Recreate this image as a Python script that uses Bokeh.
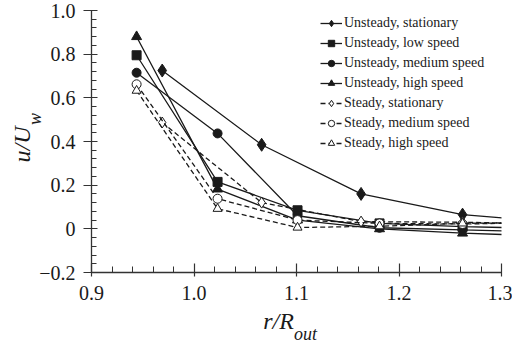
from bokeh.plotting import figure
from bokeh.models import (FixedTicker, Legend, LegendItem, Range1d, LinearAxis,
                          CustomJSTickFormatter)
from bokeh.embed import file_html
from bokeh.resources import INLINE

# ---- data ----
x_main = [0.944, 1.023, 1.101, 1.181, 1.262, 1.36]
x_stat = [0.969, 1.066, 1.163, 1.262, 1.36]

unsteady_stationary = [0.725, 0.385, 0.160, 0.065, 0.027]
unsteady_low = [0.795, 0.215, 0.085, 0.025, 0.010, 0.000]
unsteady_medium = [0.715, 0.437, 0.060, 0.005, -0.005, -0.015]
unsteady_high = [0.880, 0.182, 0.040, 0.000, -0.020, -0.035]
steady_stationary = [0.487, 0.120, 0.033, 0.030, 0.022]
steady_medium = [0.662, 0.138, 0.040, 0.025, 0.022, 0.030]
steady_high = [0.633, 0.092, 0.006, 0.012, 0.025, 0.030]

labels = ["Unsteady, stationary", "Unsteady, low speed", "Unsteady, medium speed",
          "Unsteady, high speed", "Steady, stationary", "Steady, medium speed",
          "Steady, high speed"]

x_ticks = [0.9, 1.0, 1.1, 1.2, 1.3]
y_ticks = [-0.2, 0.0, 0.2, 0.4, 0.6, 0.8, 1.0]

FONT = "Liberation Serif"
INK = "#1a1a1a"
NB = "\u00a0"

p = figure(width=512, height=346, output_backend="svg", toolbar_location=None,
           x_range=Range1d(0.9, 1.3), y_range=Range1d(-0.2, 1.0),
           min_border_left=91, min_border_right=11, min_border_top=10,
           min_border_bottom=74)
p.outline_line_color = None
p.xgrid.grid_line_color = None
p.ygrid.grid_line_color = None
p.background_fill_color = "white"

series = [
    (x_stat, unsteady_stationary, "diamond", 13, INK, "solid"),
    (x_main, unsteady_low, "square", 9, INK, "solid"),
    (x_main, unsteady_medium, "circle", 9, INK, "solid"),
    (x_main, unsteady_high, "triangle", 10, INK, "solid"),
    (x_stat, steady_stationary, "diamond", 11, "white", "5 3"),
    (x_main, steady_medium, "circle", 9, "white", "5 3"),
    (x_main, steady_high, "triangle", 9, "white", "5 3"),
]

items = []
for (xs, ys, marker, size, fill, dash), name in zip(series, labels):
    lr = p.line(xs, ys, line_color=INK, line_width=1.3, line_dash=dash)
    sr = p.scatter(xs, ys, marker=marker, size=size, fill_color=fill,
                   line_color=INK, line_width=1.0)
    items.append(LegendItem(label=name, renderers=[lr, sr]))

legend = Legend(items=items, location=(229, 121), padding=0, margin=0,
                spacing=4, glyph_width=22, glyph_height=16, label_height=16,
                label_standoff=2, label_text_font=FONT,
                label_text_font_size="14px", label_text_color=INK,
                border_line_color=None, background_fill_alpha=0)
p.add_layout(legend)

# main axes
for ax in (p.xaxis[0], p.yaxis[0]):
    ax.axis_line_color = "#333333"
    ax.axis_line_width = 1.3
    ax.major_tick_line_color = "#333333"
    ax.minor_tick_line_color = "#333333"
    ax.major_tick_line_width = 1.2
    ax.minor_tick_line_width = 1.0
    ax.major_label_text_font = FONT
    ax.major_label_text_font_size = "20px"
    ax.major_label_text_color = INK
    ax.axis_label_text_font = FONT
    ax.axis_label_text_font_style = "italic"
    ax.axis_label_text_color = INK

p.xaxis.ticker = FixedTicker(ticks=x_ticks,
                             minor_ticks=[round(0.9 + 0.02 * i, 2) for i in range(21)])
p.yaxis.ticker = FixedTicker(ticks=y_ticks,
                             minor_ticks=[round(-0.2 + 0.04 * i, 2) for i in range(31)])
p.xaxis.formatter = CustomJSTickFormatter(code="return tick.toFixed(1);")
p.yaxis.formatter = CustomJSTickFormatter(
    code="if (Math.abs(tick) < 1e-9) return '0'; return tick.toFixed(1).replace('-', '\u2212');")
p.xaxis.major_tick_in = 9
p.xaxis.major_tick_out = 4
p.xaxis.minor_tick_in = 6
p.xaxis.minor_tick_out = 0
p.xaxis.major_label_standoff = 9
p.yaxis.major_tick_in = 6
p.yaxis.major_tick_out = 8
p.yaxis.minor_tick_in = 5
p.yaxis.minor_tick_out = 0
p.yaxis.major_label_standoff = 8

# axis titles: main part on the main axes, subscripts on the inner/outer axes
p.xaxis.axis_label = "r/R" + NB * 6
p.xaxis.axis_label_text_font_size = "24px"
p.xaxis.axis_label_standoff = 5

p.yaxis.axis_label = NB * 10 + "w"
p.yaxis.axis_label_text_font_size = "18px"
p.yaxis.axis_label_standoff = -9


def label_axis(text, size, standoff):
    ax = LinearAxis(ticker=FixedTicker(ticks=[]), axis_label=text,
                    axis_line_color=None, major_tick_line_color=None,
                    minor_tick_line_color=None, major_tick_out=0, major_tick_in=0,
                    minor_tick_out=0, minor_tick_in=0, major_label_standoff=0,
                    axis_label_standoff=standoff, axis_label_text_font=FONT,
                    axis_label_text_font_style="italic",
                    axis_label_text_font_size=size, axis_label_text_color=INK)
    return ax


p.add_layout(label_axis(NB * 4 + "out", "18px", -13), "below")
p.add_layout(label_axis("u/U" + NB, "24px", -12), "left")

open("out.html", "w").write(file_html(p, INLINE))
